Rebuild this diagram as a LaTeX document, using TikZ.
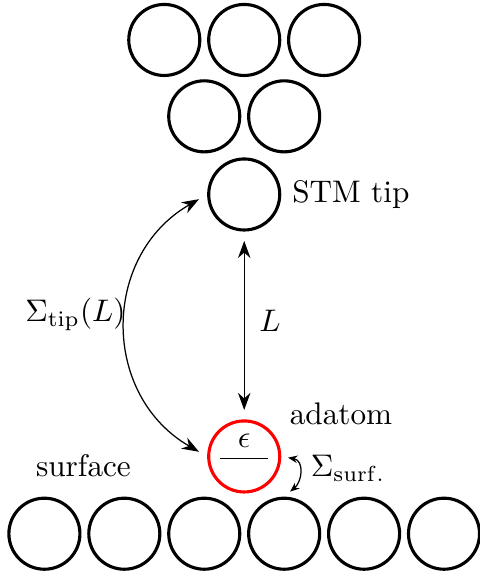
\documentclass[tikz,border=0pt]{standalone}
\usepackage{amsmath,amssymb}
\usetikzlibrary{arrows.meta,positioning}

\begin{document}
\begin{tikzpicture}[x=1cm,y=1cm,
    >={Stealth[length=5.5pt,width=4pt]},
    atom/.style={circle,draw,line width=1pt,minimum size=0.8cm,inner sep=0pt},
    gap/.style={shorten >=3pt,shorten <=3pt}]
  \useasboundingbox (-2.75,-1.38) rectangle (2.65,5.14);
  % surface row
  \foreach \x [count=\n] in {-2.25,-1.35,-0.45,0.45,1.35,2.25}
    \node[atom] (s\n) at (\x,-0.87) {};
  % STM tip
  \foreach \x [count=\n] in {-0.9,0,0.9}
    \node[atom] (t\n) at (\x,4.69) {};
  \node[atom] (m1) at (-0.45,3.83) {};
  \node[atom] (m2) at (0.45,3.83) {};
  \node[atom] (apex) at (0,2.95) {};
  % adatom with its level
  \node[atom,draw=red] (adatom) at (0,0) {};
  \coordinate (lvlA) at (-0.27,-0.02);
  \coordinate (lvlB) at (0.27,-0.02);
  \draw (lvlA) -- node[above] {$\epsilon$} (lvlB);
  % labels
  \node[right] (tiplabel) at (apex.east) {STM tip};
  \node (adlabel) at (1.09,0.48) {adatom};
  \node (surflabel) at (-1.81,-0.10) {surface};
  \node (Llabel) at (0.29,1.53) {$L$};
  \node (sigtip) at (-1.90,1.60) {$\Sigma_{\mathrm{tip}}(L)$};
  \node (sigsurf) at (1.17,-0.13) {$\Sigma_{\mathrm{surf.}}$};
  % couplings
  \draw[<->,gap] (apex.south) -- (adatom.north);
  \draw[<->,gap] (adatom.west) to[bend left=60,looseness=1.2] (apex.west);
  \draw[{Stealth[length=3pt,width=2.4pt]}-{Stealth[length=3pt,width=2.4pt]},
    shorten >=2.5pt,shorten <=2.2pt] (adatom.east) to[out=-10,in=40,looseness=1.5] (s4.north);
\end{tikzpicture}
\end{document}
